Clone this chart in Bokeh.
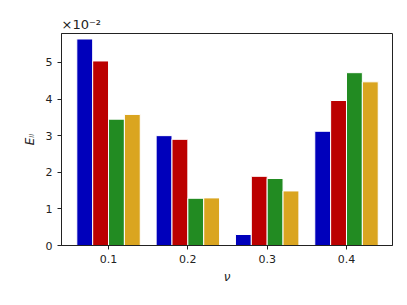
from bokeh.plotting import figure
from bokeh.models import FixedTicker, Range1d, Title
from bokeh.embed import file_html
from bokeh.resources import INLINE

# Data (values in units of 1e-2)
nu = [0.1, 0.2, 0.3, 0.4]
series_blue = [5.64, 3.00, 0.30, 3.12]
series_red = [5.04, 2.90, 1.89, 3.96]
series_green = [3.45, 1.29, 1.83, 4.72]
series_gold = [3.58, 1.30, 1.49, 4.47]
colors = ["#0000bb", "#bb0000", "#228b22", "#daa520"]
offsets = [-0.03, -0.01, 0.01, 0.03]
y_ticks = [0, 1, 2, 3, 4, 5]
x_tick_labels = ["0.1", "0.2", "0.3", "0.4"]
x_lo, x_hi, y_hi = 0.0407, 0.458, 5.79

p = figure(width=407, height=305, output_backend="svg", toolbar_location=None,
           x_range=Range1d(x_lo, x_hi), y_range=Range1d(0, y_hi),
           min_border_left=61, min_border_right=15, min_border_top=33, min_border_bottom=60)

for vals, col, off in zip([series_blue, series_red, series_green, series_gold], colors, offsets):
    p.vbar(x=[n + off for n in nu], top=vals, width=0.02, bottom=0,
           fill_color=col, line_color="white", line_width=1)

p.xgrid.visible = False
p.ygrid.visible = False
p.outline_line_color = "#222222"
p.outline_line_width = 1
p.background_fill_color = "white"

ax = p.xaxis[0]
ax.ticker = FixedTicker(ticks=nu)
ax.major_label_overrides = {n: s for n, s in zip(nu, x_tick_labels)}
ay = p.yaxis[0]
ay.ticker = FixedTicker(ticks=y_ticks)

for a in (ax, ay):
    a.axis_line_color = "#222222"
    a.major_tick_line_color = "#222222"
    a.minor_tick_line_color = None
    a.major_tick_out = 4
    a.major_tick_in = 0
    a.major_label_text_font = "DejaVu Sans"
    a.major_label_text_font_size = "11px"
    a.major_label_text_color = "#222222"
    a.axis_label_text_font = "DejaVu Sans"
    a.axis_label_text_font_size = "12px"
    a.axis_label_text_font_style = "italic"
    a.axis_label_text_color = "#222222"

ax.axis_label = "ν"
ax.axis_label_standoff = 4
ay.axis_label = "Eₗₗ"
ay.axis_label_standoff = 6

p.add_layout(Title(text="×10⁻²", align="left", text_font="DejaVu Sans",
                   text_font_size="13px", text_font_style="normal",
                   text_color="#222222", standoff=3, offset=0), "above")

open("out.html", "w").write(file_html(p, INLINE))
